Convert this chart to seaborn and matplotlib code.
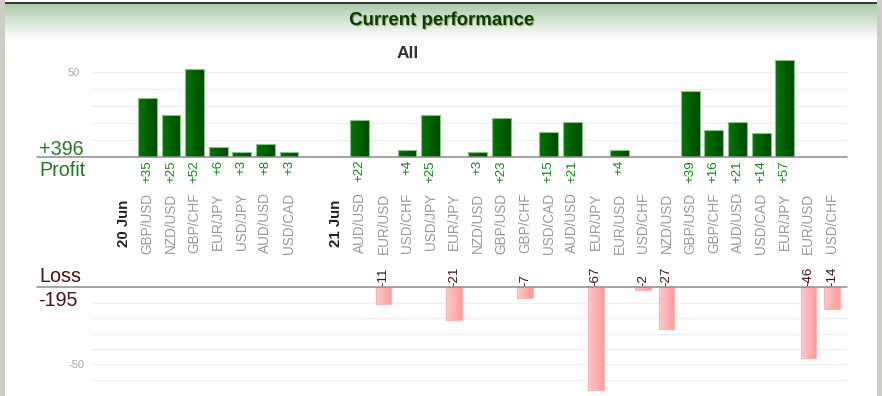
import numpy as np
import pandas as pd
import matplotlib
matplotlib.use("Agg")
import matplotlib.pyplot as plt
import seaborn as sns
from matplotlib import transforms, patheffects
from matplotlib.colors import LinearSegmentedColormap, to_rgb
from matplotlib.lines import Line2D
from matplotlib.patches import Rectangle

# ---------------- data ----------------
title = "Current performance"
subtitle = "All"
day_labels = ["20 Jun", "21 Jun"]
pairs_day1 = ["GBP/USD", "NZD/USD", "GBP/CHF", "EUR/JPY", "USD/JPY", "AUD/USD", "USD/CAD"]
results_day1 = [35, 25, 52, 6, 3, 8, 3]
pairs_day2 = ["AUD/USD", "EUR/USD", "USD/CHF", "USD/JPY", "EUR/JPY", "NZD/USD", "GBP/USD",
              "GBP/CHF", "USD/CAD", "AUD/USD", "EUR/JPY", "EUR/USD", "USD/CHF", "NZD/USD",
              "GBP/USD", "GBP/CHF", "AUD/USD", "USD/CAD", "EUR/JPY", "EUR/USD", "USD/CHF"]
results_day2 = [22, -11, 4, 25, -21, 3, 23, -7, 15, 21, -67, 4, -2, -27,
                39, 16, 21, 14, 57, -46, -14]

# ---------------- build slot table ----------------
order = ["d0"] + [f"a{i}" for i in range(len(pairs_day1))] + ["gap", "d1"] + \
        [f"b{i}" for i in range(len(pairs_day2))]
rows = []
for i, (p, v) in enumerate(zip(pairs_day1, results_day1)):
    rows.append(dict(slot=f"a{i}", pair=p, value=v))
for i, (p, v) in enumerate(zip(pairs_day2, results_day2)):
    rows.append(dict(slot=f"b{i}", pair=p, value=v))
df = pd.DataFrame(rows)
df["pos"] = df["slot"].map({s: k for k, s in enumerate(order)})
prof = df[df.value > 0]
loss = df[df.value < 0]
total_profit = int(prof.value.sum())
total_loss = int(loss.value.sum())

W, H = 882, 396
fig = plt.figure(figsize=(W / 100, H / 100), dpi=100)
sns.set_style("white")
plt.rcParams["font.family"] = ["Liberation Sans", "DejaVu Sans"]

def fx(px):
    return px / W

def fy(py):
    return 1 - py / H

# ---------------- background ----------------
bg = fig.add_axes([0, 0, 1, 1], zorder=-10)
bg.set_xlim(0, W)
bg.set_ylim(H, 0)
bg.axis("off")
bg.add_patch(Rectangle((0, 0), 4.5, H, color="#cdcdc7", lw=0))
bg.add_patch(Rectangle((877, 0), 5, H, color="#cdcdc7", lw=0))
top_c = np.array(to_rgb("#a9caa9"))
n = 64
t = np.linspace(0, 1, n) ** 0.9
grad = (top_c[None, :] * (1 - t[:, None]) + np.ones(3)[None, :] * t[:, None])[:, None, :]
bg.imshow(grad, extent=(4.5, 877, 40, 4), aspect="auto", origin="upper", interpolation="bilinear")
bg.plot([4.5, 877], [3.3, 3.3], color="#111111", lw=1.2, solid_capstyle="butt")

# ---------------- axes ----------------
x_left, x_right = 91, 847
xlim = (-1.39, 30.64)
base_p, ppu_p = 157.2, 1.7
base_l, ppu_l = 287.3, 1.54
ax_p = fig.add_axes([fx(x_left), fy(base_p), (x_right - x_left) / W, 60 * ppu_p / H])
ax_l = fig.add_axes([fx(x_left), fy(base_l + 70 * ppu_l), (x_right - x_left) / W, 70 * ppu_l / H])

sns.barplot(data=prof, x="slot", y="value", order=order, width=0.8, color="#005c00",
            edgecolor="#86c486", linewidth=0.8, errorbar=None, ax=ax_p)
sns.barplot(data=loss, x="slot", y="value", order=order, width=0.66, color="#ffaaaa",
            edgecolor="#ffb4b4", linewidth=0.8, errorbar=None, ax=ax_l)

cm_p = LinearSegmentedColormap.from_list("p", ["#007800", "#004800"])
cm_l = LinearSegmentedColormap.from_list("l", ["#ffcaca", "#ff9a9a"])

def gradient_fill(ax, cmap):
    g = np.linspace(0, 1, 64).reshape(1, -1)
    for p in list(ax.patches):
        h = p.get_height()
        if not np.isfinite(h) or h == 0:
            continue
        x0, y0, w = p.get_x(), p.get_y(), p.get_width()
        im = ax.imshow(g, cmap=cmap, extent=(x0, x0 + w, y0, y0 + h), aspect="auto",
                       zorder=2.5, interpolation="bilinear")
        im.set_clip_path(p)
        p.set_facecolor("none")
        p.set_zorder(3)

gradient_fill(ax_p, cm_p)
gradient_fill(ax_l, cm_l)

for ax in (ax_p, ax_l):
    ax.set_xlim(*xlim)
    ax.set_xlabel("")
    ax.set_ylabel("")
    ax.tick_params(axis="x", length=0, labelbottom=False)
    for s in ax.spines.values():
        s.set_visible(False)
    ax.grid(axis="y", color="#eeeeee", lw=1)
    ax.set_axisbelow(True)
    ax.patch.set_alpha(0)

ax_p.set_ylim(0, 60)
ax_p.set_yticks([10, 20, 30, 40, 50])
ax_p.set_yticklabels(["", "", "", "", "50"])
ax_p.tick_params(axis="y", length=0, pad=8, labelcolor="#a8a8a8", labelsize=8)
ax_l.set_ylim(-70, 0)
ax_l.set_yticks([-10, -20, -30, -40, -50, -60])
ax_l.set_yticklabels(["", "", "", "", "-50", ""])
ax_l.tick_params(axis="y", length=0, pad=5, labelcolor="#a8a8a8", labelsize=8)

# ---------------- baselines ----------------
for yb in (base_p, base_l):
    fig.add_artist(Line2D([fx(37), fx(x_right)], [fy(yb), fy(yb)], color="#8c8c8c", lw=1.1))

# ---------------- labels ----------------
tr = transforms.blended_transform_factory(ax_p.transData, fig.transFigure)
for _, r in df.iterrows():
    ax_p.text(r.pos, fy(192.5), r.pair, transform=tr, rotation=90, ha="center", va="top",
              color="#9a9a9a", fontsize=9.8)
    if r.value > 0:
        ax_p.text(r.pos, fy(160), f"+{r.value}", transform=tr, rotation=90, ha="center",
                  va="top", color="#138a13", fontsize=9.6)
    else:
        ax_p.text(r.pos, fy(285.5), f"{r.value}", transform=tr, rotation=90, ha="center",
                  va="bottom", color="#4a1010", fontsize=9.6)
for name, slot in zip(day_labels, ["d0", "d1"]):
    ax_p.text(order.index(slot), fy(199.5), name, transform=tr, rotation=90, ha="center",
              va="top", color="#222222", fontsize=10.8, fontweight="bold")

green = "#1f7a1f"
maroon = "#4a1414"
fig.text(fx(39), fy(155), f"+{total_profit}", color=green, fontsize=14.2, va="baseline", ha="left")
fig.text(fx(39.5), fy(176.5), "Profit", color=green, fontsize=14.2, va="baseline", ha="left")
fig.text(fx(39.5), fy(282.5), "Loss", color=maroon, fontsize=14.2, va="baseline", ha="left")
fig.text(fx(38.5), fy(305.5), f"{total_loss}", color=maroon, fontsize=14.2, va="baseline", ha="left")

fig.text(fx(441.5), fy(20.5), title, color="#0b3a0b", fontsize=13.4, fontweight="bold",
         ha="center", va="center",
         path_effects=[patheffects.withSimplePatchShadow(offset=(0.8, -0.8),
                                                         shadow_rgbFace="#8a9a30", alpha=0.7)])
fig.text(fx(408), fy(53), subtitle, color="#333333", fontsize=12.5, fontweight="bold",
         ha="center", va="center")

fig.savefig("out.png", dpi=100, facecolor="white")
